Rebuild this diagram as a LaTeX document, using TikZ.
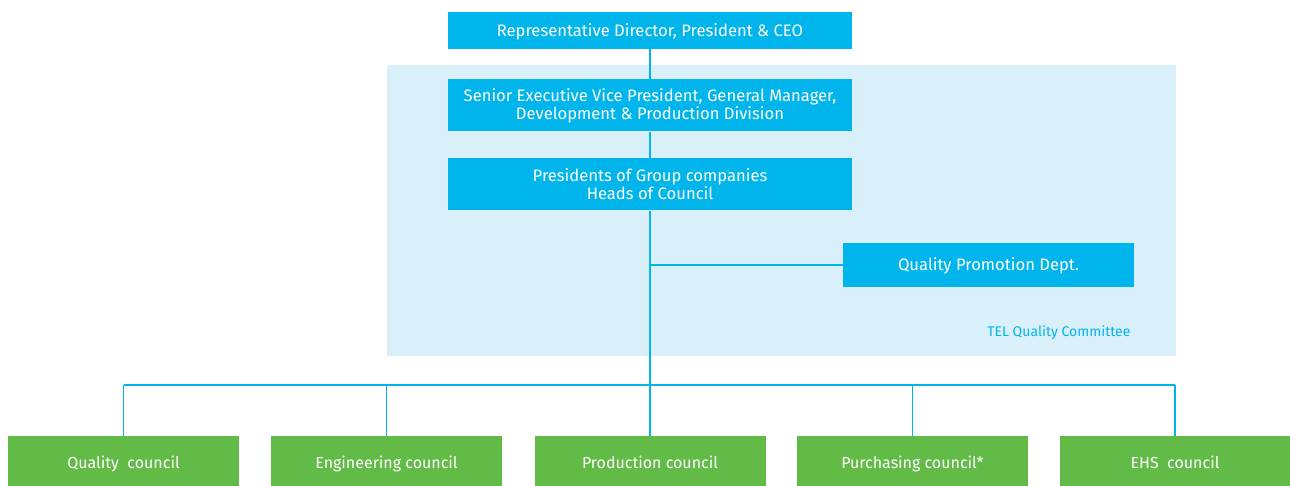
\documentclass[tikz,border=0pt]{standalone}
\usepackage{fontspec}
\setmainfont{Fira Sans}
\definecolor{telBlue}{HTML}{00B5EC}
\definecolor{telPale}{HTML}{D9F0FA}
\definecolor{telGreen}{HTML}{62BB46}
\begin{document}
\begin{tikzpicture}
[x=1pt,y=-1pt,%
  blueLine/.style={-,line width=1.3pt,color=telBlue},%
  boxDecorate/.style={shape=rectangle,inner sep=0pt,text=white,align=center,font=\fontsize{16.6}{18}\selectfont},%
  oneLine/.style={text height=12.5pt,text depth=1pt},%
  blueBox/.style={boxDecorate,fill=telBlue,minimum width=404pt},%
  greenBox/.style={boxDecorate,text height=14.5pt,text depth=0pt,fill=telGreen,minimum width=231pt,minimum height=50pt,font=\fontsize{16}{18}\selectfont}]
\useasboundingbox (0,0) rectangle (1290,486);
%% committee area
\fill[telPale] (387,65) rectangle (1176,356);
\node (tqc) at (1134,333) [anchor=east,text=telBlue,font=\fontsize{14}{16}\selectfont] {TEL Quality Committee};
%% blue boxes
\node (ceo) at (650,30.5) [blueBox,oneLine,minimum height=37pt] {Representative Director, President \& CEO};
\node (sevp) at (650,105.5) [blueBox,minimum height=52pt] {Senior Executive Vice President, General Manager,\\Development \& Production Division};
\node (pres) at (650,184.5) [blueBox,minimum height=52pt] {Presidents of Group companies\\Heads of Council};
\node (qpd) at (988.5,265) [blueBox,oneLine,minimum width=291pt,minimum height=44pt] {Quality Promotion Dept.};
\coordinate (qj) at (650,265);
%% councils
\foreach \nodename/\x/\label in {qc/123.5/Quality\ \ council, ec/386.5/Engineering council, pc/650/Production council, uc/912.5/Purchasing council*, hc/1175/EHS\ \ council}
{
  \node (\nodename) at (\x,461) [greenBox] {\label};
  \coordinate (b\nodename) at (\x,385);
}
%% lines
\path
\foreach \startnode/\endnode in {ceo/sevp, sevp/pres, pres/bpc, qj/qpd, bqc/bhc, bqc/qc, bec/ec, bpc/pc, buc/uc, bhc/hc}
{
  (\startnode) edge[blueLine] (\endnode)
};
\end{tikzpicture}
\end{document}
